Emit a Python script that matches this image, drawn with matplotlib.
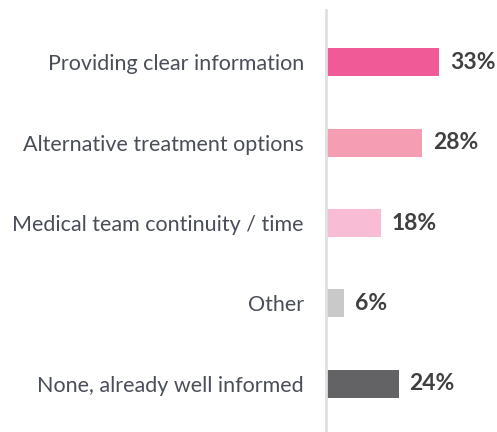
import matplotlib.pyplot as plt

# Survey answers, top to bottom
categories = [
    "Providing clear information",
    "Alternative treatment options",
    "Medical team continuity / time",
    "Other",
    "None, already well informed",
]
# Bar lengths as drawn in the reference (percent)
bar_values = [33, 28, 16, 5.3, 21.2]
# Labels printed next to the bars
value_labels = ["33%", "28%", "18%", "6%", "24%"]
colors = ["#F05A96", "#F49DB3", "#F8BCD5", "#C9C9C9", "#636366"]

plt.rcParams["font.family"] = ["Lato", "DejaVu Sans"]

fig = plt.figure(figsize=(4.97, 4.32), dpi=100)
ax = fig.add_axes([326 / 497, 0, 171 / 497, 422 / 432])

positions = list(range(len(categories)))
ax.barh(positions, bar_values, height=0.35, color=colors)

# Value labels to the right of each bar
for pos, val, lab in zip(positions, bar_values, value_labels):
    ax.annotate(
        lab, (val, pos), xytext=(8, 0), textcoords="offset points",
        va="center", ha="left", fontsize=16.5, fontweight="bold", color="#404040",
    )

ax.set_yticks(positions)
ax.set_yticklabels(categories, fontsize=15.5, color="#4A4E58")
ax.tick_params(axis="y", length=0, pad=16)
ax.set_xticks([])
ax.set_xlim(0, 50)
ax.set_ylim(4.6, -0.65)

for side in ["top", "right", "bottom"]:
    ax.spines[side].set_visible(False)
ax.spines["left"].set_color("#E0E0E0")
ax.spines["left"].set_linewidth(2)

fig.savefig("out.png", dpi=100)
